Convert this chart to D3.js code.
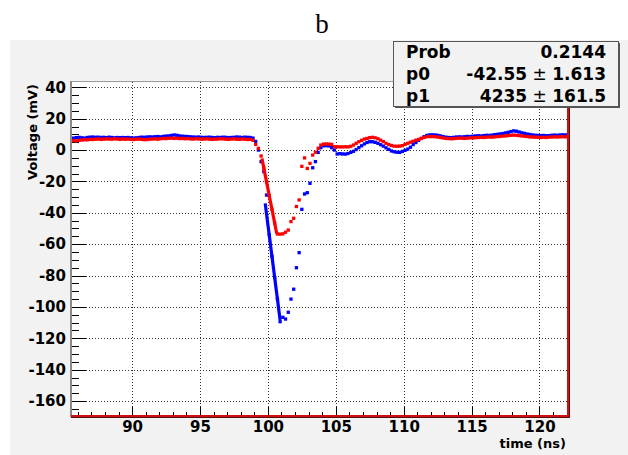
<!DOCTYPE html>
<html>
<head>
<meta charset="utf-8">
<script src="https://cdn.jsdelivr.net/npm/d3@7"></script>
<style>
  html, body { margin: 0; padding: 0; background: #ffffff; }
  svg { display: block; }
  .tick text { font-family: "DejaVu Sans", Verdana, sans-serif; font-weight: bold; font-size: 15px; fill: #000; }
</style>
</head>
<body>
<svg id="chart" width="628" height="455"></svg>
<script>
// Sampling grid of the digitised waveforms (ns)
const startTime = 85.5;
const sampleStep = 0.2;

// Channel voltages (mV), one value per sample
const blueVoltage = [
  7.4, 7.6, 7.9, 8.1, 7.8, 7.6, 8.0, 8.2, 8.3, 8.1,
  8.2, 8.0, 8.1, 7.9, 8.2, 8.0, 7.8, 8.0, 7.9, 8.0,
  7.9, 8.0, 7.8, 7.6, 7.8, 8.0, 8.2, 8.1, 8.3, 8.4,
  8.3, 8.5, 8.6, 8.4, 8.7, 8.9, 9.0, 9.3, 9.6, 9.4,
  9.0, 8.8, 8.7, 8.6, 8.4, 8.3, 8.2, 8.3, 8.1, 8.0,
  8.1, 8.2, 8.0, 7.9, 8.1, 8.0, 8.2, 8.1, 7.9, 8.0,
  8.1, 8.3, 8.2, 8.0, 8.2, 8.1, 8.0, 7.6, 5.5, 0.0,
  -7.4, -13.8, -28.7, -54.0, -67.8, -81.3, -94.8, -109.4, -106.6, -107.7,
  -103.4, -95.0, -88.7, -75.0, -65.4, -37.8, -28.0, -27.2, -21.2, -11.3,
  -7.4, -1.5, 1.5, 2.7, 2.8, 2.6, 1.5, 0.0, -2.5, -2.3,
  -2.5, -2.6, -2.2, -1.5, -0.8, 0.3, 1.5, 2.7, 3.9, 4.8,
  5.3, 5.3, 4.9, 4.3, 3.4, 2.5, 1.4, 0.4, -0.6, -1.1,
  -1.4, -1.5, -0.9, -0.2, 0.6, 1.8, 3.5, 4.8, 6.2, 7.4,
  8.5, 9.3, 9.6, 9.7, 9.6, 9.4, 9.0, 8.6, 8.2, 8.0,
  7.9, 8.1, 8.3, 8.4, 8.3, 8.5, 8.7, 8.6, 8.8, 9.0,
  9.1, 9.0, 9.2, 9.4, 9.3, 9.5, 9.8, 10.0, 10.3, 10.5,
  10.9, 11.3, 11.8, 12.2, 12.0, 11.5, 11.0, 10.6, 10.2, 9.9,
  9.6, 9.4, 9.3, 9.2, 9.3, 9.1, 9.2, 9.4, 9.5, 9.4,
  9.6, 9.7, 9.6, 9.8
];

const redVoltage = [
  5.9, 6.0, 5.8, 6.2, 6.4, 6.6, 6.5, 6.8, 6.7, 6.9,
  7.0, 6.8, 6.9, 7.1, 7.0, 6.9, 7.2, 7.0, 6.8, 7.0,
  6.9, 7.0, 6.8, 6.7, 6.9, 7.0, 6.8, 6.6, 6.7, 6.9,
  7.0, 7.1, 6.9, 7.2, 7.4, 7.3, 7.5, 7.6, 7.4, 7.5,
  7.3, 7.4, 7.2, 7.3, 7.1, 7.0, 7.2, 7.1, 6.9, 7.0,
  7.1, 7.0, 6.8, 6.9, 7.0, 7.2, 7.1, 6.9, 6.8, 7.0,
  7.1, 6.9, 6.8, 7.0, 6.9, 6.7, 6.8, 6.2, 3.6, 1.1,
  -3.8, -11.5, -20.2, -29.0, -37.8, -46.6, -53.5, -53.6, -53.4, -52.4,
  -51.0, -45.6, -43.5, -36.0, -31.8, -10.4, -5.0, -11.7, -8.5, -3.2,
  -1.4, 1.1, 3.2, 3.8, 3.9, 3.8, 3.6, 2.1, 2.1, 2.0,
  2.0, 2.1, 2.0, 2.4, 3.2, 4.3, 5.3, 6.2, 7.0, 7.4,
  7.9, 8.1, 7.8, 7.2, 6.3, 5.4, 4.3, 3.5, 2.9, 2.5,
  2.4, 2.5, 2.8, 3.6, 4.3, 5.0, 5.6, 6.3, 6.8, 7.4,
  8.0, 8.5, 8.6, 8.6, 8.5, 8.3, 8.0, 7.7, 7.4, 7.3,
  7.2, 7.3, 7.5, 7.6, 7.5, 7.4, 7.6, 7.8, 7.7, 7.9,
  8.0, 8.1, 8.0, 8.2, 8.3, 8.2, 8.4, 8.6, 8.7, 8.9,
  9.0, 9.2, 9.4, 9.5, 9.4, 9.2, 9.0, 8.8, 8.6, 8.4,
  8.3, 8.2, 8.1, 8.0, 8.1, 8.0, 8.2, 8.3, 8.4, 8.3,
  8.4, 8.5, 8.4, 8.5
];

// Linear fits over the falling edges: [start, end]
const redFitTime = [99.56, 100.65];
const redFitVoltage = [-5.3, -53.2];
const blueFitTime = [99.8, 100.9];
const blueFitVoltage = [-34.0, -108.3];

// Axes
const timeDomain = [85.5, 122.1];
const voltageDomain = [-169.5, 44];
const timeTicks = [90, 95, 100, 105, 110, 115, 120];
const voltageTicks = [40, 20, 0, -20, -40, -60, -80, -100, -120, -140, -160];

// Fit statistics box
const statNames = ["Prob", "p0", "p1"];
const statValues = ["0.2144", "-42.55", "4235"];
const statErrors = [null, "1.613", "161.5"];

const titleText = "b";
const xTitle = "time (ns)";
const yTitle = "Voltage (mV)";

const svg = d3.select("#chart");
const W = 628, H = 455;
const frame = { left: 71, right: 568, top: 81, bottom: 416 };
const font = '"DejaVu Sans", Verdana, sans-serif';

// canvas
svg.append("rect").attr("x", 0).attr("y", 0).attr("width", W).attr("height", H).attr("fill", "#ffffff");
svg.append("rect").attr("x", 10).attr("y", 40).attr("width", W - 10).attr("height", H - 40).attr("fill", "#f2f2f2");

svg.append("text")
  .attr("x", 322).attr("y", 33)
  .attr("text-anchor", "middle")
  .attr("font-family", '"Liberation Serif", "Times New Roman", serif')
  .attr("font-size", 27)
  .text(titleText);

const x = d3.scaleLinear().domain(timeDomain).range([frame.left, frame.right]);
const y = d3.scaleLinear().domain(voltageDomain).range([frame.bottom, frame.top]);

// plot area
svg.append("rect")
  .attr("x", frame.left).attr("y", frame.top)
  .attr("width", frame.right - frame.left).attr("height", frame.bottom - frame.top)
  .attr("fill", "#ffffff");

svg.append("defs").append("clipPath").attr("id", "plotClip")
  .append("rect")
  .attr("x", frame.left).attr("y", frame.top)
  .attr("width", frame.right - frame.left).attr("height", frame.bottom - frame.top);

// dotted grid
const gridX = svg.append("g")
  .attr("transform", `translate(0,${frame.bottom})`)
  .call(d3.axisBottom(x).tickValues(timeTicks).tickSize(-(frame.bottom - frame.top)).tickFormat(""));
const gridY = svg.append("g")
  .attr("transform", `translate(${frame.left},0)`)
  .call(d3.axisLeft(y).tickValues(voltageTicks).tickSize(-(frame.right - frame.left)).tickFormat(""));
[gridX, gridY].forEach(g => {
  g.select(".domain").remove();
  g.selectAll(".tick line")
    .attr("stroke", "#333")
    .attr("stroke-width", 1)
    .attr("stroke-dasharray", "1,2")
    .attr("shape-rendering", "crispEdges");
});

// frame top edge
svg.append("line").attr("x1", frame.left).attr("x2", frame.right).attr("y1", frame.top + 0.5).attr("y2", frame.top + 0.5)
  .attr("stroke", "#9a9a9a").attr("stroke-width", 1);

// minor and major ticks
const xMinor = d3.range(86, 122.01, 1);
const yMinor = d3.range(-165, 44, 5);
const plainNumber = d => String(d);

const xMinorAxis = svg.append("g")
  .attr("transform", `translate(0,${frame.bottom})`)
  .call(d3.axisBottom(x).tickValues(xMinor).tickSizeInner(-4.5).tickSizeOuter(0).tickFormat(""));
const xMajorAxis = svg.append("g")
  .attr("transform", `translate(0,${frame.bottom})`)
  .call(d3.axisBottom(x).tickValues(timeTicks).tickSizeInner(-9).tickSizeOuter(0).tickPadding(5).tickFormat(plainNumber));
const yMinorAxis = svg.append("g")
  .attr("transform", `translate(${frame.left},0)`)
  .call(d3.axisLeft(y).tickValues(yMinor).tickSizeInner(-7.5).tickSizeOuter(0).tickFormat(""));
const yMajorAxis = svg.append("g")
  .attr("transform", `translate(${frame.left},0)`)
  .call(d3.axisLeft(y).tickValues(voltageTicks).tickSizeInner(-15).tickSizeOuter(0).tickPadding(5).tickFormat(plainNumber));

[xMinorAxis, xMajorAxis, yMinorAxis, yMajorAxis].forEach(g => {
  g.select(".domain").remove();
  g.selectAll(".tick line").attr("stroke", "#000").attr("stroke-width", 1).attr("shape-rendering", "crispEdges");
});
xMajorAxis.selectAll(".tick text").attr("dy", "0.71em");

// data
const times = blueVoltage.map((_, i) => startTime + i * sampleStep);
const plot = svg.append("g").attr("clip-path", "url(#plotClip)");
const markerSize = 3.3;

function drawSeries(values, color) {
  plot.append("g").selectAll("rect")
    .data(values)
    .join("rect")
    .attr("x", (d, i) => x(times[i]) - markerSize / 2)
    .attr("y", d => y(d) - markerSize / 2)
    .attr("width", markerSize)
    .attr("height", markerSize)
    .attr("fill", color);
}
drawSeries(blueVoltage, "#0000ff");
drawSeries(redVoltage, "#ff0000");

function drawFit(ts, vs, color) {
  const pts = ts.map((t, i) => [t, vs[i]]);
  plot.append("path")
    .attr("d", d3.line().x(d => x(d[0])).y(d => y(d[1]))(pts))
    .attr("fill", "none")
    .attr("stroke", color)
    .attr("stroke-width", 3.2);
}
drawFit(blueFitTime, blueFitVoltage, "#0000ff");
drawFit(redFitTime, redFitVoltage, "#ff0000");

// left axis line, bottom/right frame edges
svg.append("line").attr("x1", frame.left).attr("x2", frame.left).attr("y1", frame.top).attr("y2", frame.bottom + 1)
  .attr("stroke", "#8a8a8a").attr("stroke-width", 2);
svg.append("line").attr("x1", frame.left).attr("x2", frame.right + 1).attr("y1", frame.bottom).attr("y2", frame.bottom)
  .attr("stroke", "#d01010").attr("stroke-width", 2);
svg.append("line").attr("x1", frame.left).attr("x2", frame.right + 2).attr("y1", frame.bottom + 1.5).attr("y2", frame.bottom + 1.5)
  .attr("stroke", "#5a1010").attr("stroke-width", 1);
svg.append("line").attr("x1", frame.right).attr("x2", frame.right).attr("y1", frame.top).attr("y2", frame.bottom + 1)
  .attr("stroke", "#d01010").attr("stroke-width", 2);
svg.append("line").attr("x1", frame.right + 1.5).attr("x2", frame.right + 1.5).attr("y1", frame.top).attr("y2", frame.bottom + 2)
  .attr("stroke", "#5a1010").attr("stroke-width", 1);

// axis titles
svg.append("text")
  .attr("x", frame.right - 2).attr("y", 448)
  .attr("text-anchor", "end")
  .attr("font-family", font).attr("font-weight", "bold").attr("font-size", 13)
  .text(xTitle);
svg.append("text")
  .attr("transform", `translate(37,${frame.top + 3}) rotate(-90)`)
  .attr("text-anchor", "end")
  .attr("font-family", font).attr("font-weight", "bold").attr("font-size", 13)
  .text(yTitle);

// statistics box
const box = { x: 393, y: 41, w: 225, h: 65 };
svg.append("rect")
  .attr("x", box.x + 2).attr("y", box.y + 2).attr("width", box.w).attr("height", box.h)
  .attr("fill", "#555");
svg.append("rect")
  .attr("x", box.x + 0.5).attr("y", box.y + 0.5).attr("width", box.w).attr("height", box.h)
  .attr("fill", "#f2f2f2").attr("stroke", "#555").attr("stroke-width", 1);

const rowBase = [58.3, 80, 101.7];
statNames.forEach((name, i) => {
  svg.append("text")
    .attr("x", 406).attr("y", rowBase[i])
    .attr("font-family", font).attr("font-weight", "bold").attr("font-size", 17)
    .text(name);
  const t = svg.append("text")
    .attr("x", 606).attr("y", rowBase[i])
    .attr("text-anchor", "end")
    .attr("font-family", font).attr("font-weight", "bold").attr("font-size", 17);
  t.append("tspan").text(statValues[i]);
  if (statErrors[i] !== null) {
    t.append("tspan").attr("font-weight", "normal").text(" \u00B1 ");
    t.append("tspan").text(statErrors[i]);
  }
});
</script>
</body>
</html>
